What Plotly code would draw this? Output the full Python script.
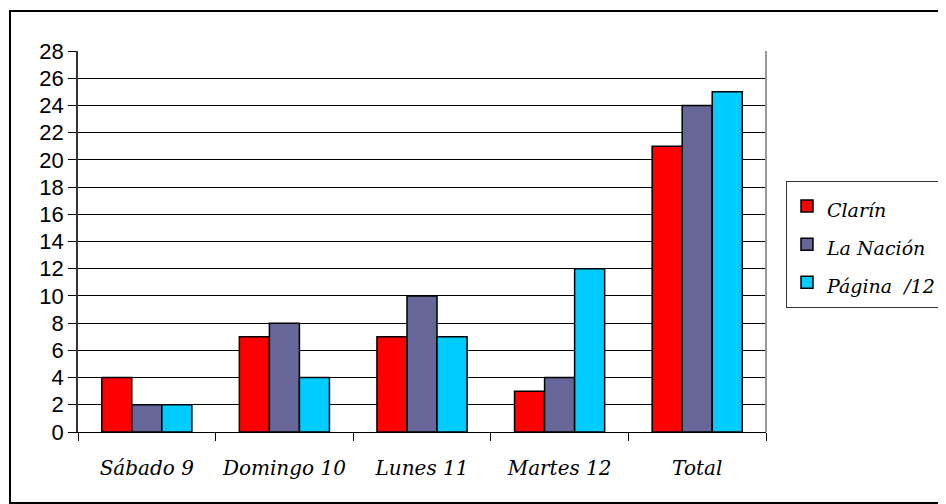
import plotly.graph_objects as go

categories = ["Sábado 9", "Domingo 10", "Lunes 11", "Martes 12", "Total"]
clarin = [4, 7, 7, 3, 21]
la_nacion = [2, 8, 10, 4, 24]
pagina12 = [2, 4, 7, 12, 25]
series_names = ["Clarín", "La Nación", "Página  /12"]
colors = ["#FF0000", "#666699", "#00CCFF"]
y_ticks = list(range(0, 29, 2))

xpos = list(range(len(categories)))
SERIF = "DejaVu Serif"

fig = go.Figure()
for name, vals, col in zip(series_names, [clarin, la_nacion, pagina12], colors):
    fig.add_trace(go.Bar(
        x=xpos, y=vals, name=f"<span style='font-size:19px'>{name}</span>",
        marker=dict(color=col, line=dict(color="black", width=1.5)),
    ))

OFF = 8  # page body margin
W, H = 946 - OFF, 504 - OFF
L, T = 78 - OFF, 51 - OFF
pw, ph = 688, 381
R = W - L - pw
B = H - T - ph

def px2x(px):
    return (px - OFF - L) / pw

def px2y(py):
    return (T + ph - (py - OFF)) / ph

fig.update_layout(
    width=W, height=H,
    margin=dict(l=L, r=R, t=T, b=B, autoexpand=False),
    paper_bgcolor="white", plot_bgcolor="white",
    barmode="group", bargap=0.345, bargroupgap=0,
    showlegend=True,
    legend=dict(
        x=px2x(786), y=px2y(181), xanchor="left", yanchor="top",
        font=dict(family=SERIF, size=27, color="black", style="italic"),
        bordercolor="#333333", borderwidth=1,
        itemwidth=30, tracegroupgap=0,
    ),
    xaxis=dict(
        range=[-0.5, len(categories) - 0.5],
        tickvals=xpos, ticktext=categories,
        ticks="", showgrid=False, zeroline=False,
        tickfont=dict(family=SERIF, size=20, color="black", style="italic"),
        ticklabelstandoff=18,
        showline=True, linecolor="black", linewidth=1,
        minor=dict(tickvals=[i - 0.5 for i in range(len(categories) + 1)],
                   ticks="outside", ticklen=8, tickcolor="black", tickwidth=1),
    ),
    yaxis=dict(
        range=[0, 28], tickvals=y_ticks,
        ticks="outside", ticklen=8, tickcolor="black",
        showgrid=True, gridcolor="black", gridwidth=1,
        zeroline=False,
        showline=True, linecolor="#333333", linewidth=1.5,
        tickfont=dict(family="Liberation Sans, Arial, sans-serif", size=22, color="black"),
    ),
    shapes=[
        dict(type="line", xref="paper", yref="paper", x0=1, x1=1, y0=0, y1=1,
             line=dict(color="#999999", width=2)),
        dict(type="rect", xref="paper", yref="paper",
             x0=px2x(10), x1=px2x(945), y0=px2y(503), y1=px2y(11),
             line=dict(color="black", width=2)),
    ],
)

fig.write_html("out.html")
